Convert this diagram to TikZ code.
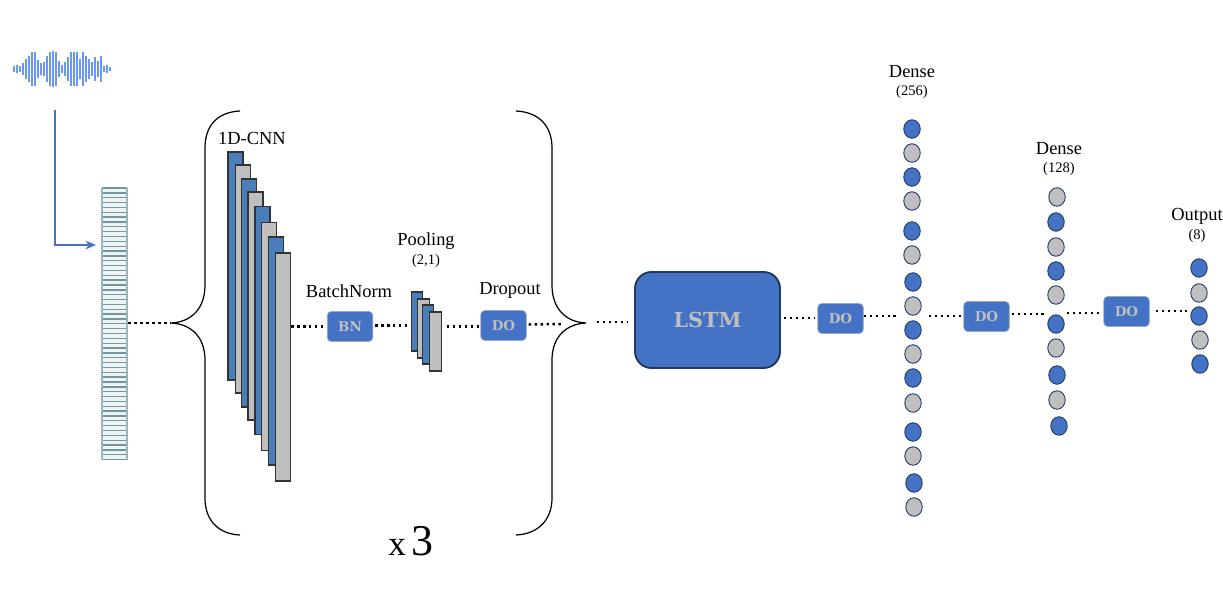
\documentclass[tikz,border=0pt]{standalone}
\usepackage{fontspec}
\setmainfont{Liberation Serif}
\newfontfamily\slabfont{DejaVu Serif}
\usetikzlibrary{arrows.meta,positioning,calc}
\definecolor{boxblue}{HTML}{4472C4}
\definecolor{layerblue}{HTML}{4A7EBB}
\definecolor{unitgray}{HTML}{BFBFBF}
\definecolor{darkline}{HTML}{1F3864}
\definecolor{waveblue}{HTML}{6A96F5}
\definecolor{stripe}{HTML}{6F979C}
\tikzstyle{unitb}=[draw=darkline,fill=boxblue,ellipse,minimum width=.33cm,minimum height=.37cm,inner sep=0pt,line width=.5pt]
\tikzstyle{unitg}=[unitb,fill=unitgray]
\tikzstyle{layerb}=[draw=black!80,fill=layerblue,minimum width=.3cm,minimum height=4.56cm,inner sep=0pt,line width=.7pt]
\tikzstyle{layerg}=[layerb,fill=unitgray]
\tikzstyle{poolb}=[layerb,minimum width=.23cm,minimum height=1.18cm]
\tikzstyle{poolg}=[poolb,fill=unitgray]
\tikzstyle{smallbox}=[draw=unitgray!70!boxblue,fill=boxblue,rounded corners=.08cm,minimum width=.91cm,minimum height=.6cm,inner sep=0pt,text=unitgray,font=\slabfont\fontsize{7.7}{8}\bfseries\selectfont]
\tikzstyle{dots}=[line width=1.4pt,dash pattern=on 1.4pt off 2pt]
\tikzstyle{brace}=[line width=.7pt,black]
\tikzstyle{lab}=[inner sep=0pt,font=\fontsize{10.5}{12}\selectfont]
\tikzstyle{sublab}=[inner sep=0pt,font=\fontsize{8.3}{10}\selectfont]
\usetikzlibrary{shapes.geometric}

\begin{document}
\begin{tikzpicture}[x=.02cm,y=-.02cm]
\useasboundingbox (0,0) rectangle (1223,595);

% waveform
\foreach \px/\h in {14/2.7,17.3/4,20.3/2.7,23.3/6,26.3/10,29.3/13.3,32.3/16.7,35.3/17.3,38.3/9.3,41.3/6,44.3/7.3,47.3/13.3,50.3/16.7,53.3/18.3,56.3/16.7,59.3/8.3,62.3/4,65.3/6.7,68.3/11.7,71.3/16.7,74.3/17.3,77.3/17.3,80.3/10,83.3/16.7,86.3/13.3,89.3/10,92.3/7.3,95.3/11.7,98.3/8.3,101.3/12.7,104.3/3.3,107.3/4,110.3/2}
  \draw[waveblue,line width=.95pt] (\px,69-\h) -- (\px,69+\h);

% input strip
\node[draw=none,minimum width=.5cm,minimum height=5.44cm,fill=stripe!12,inner sep=0pt] (strip) at (114.5,324) {};
\foreach \n in {0,...,56}
  \draw[stripe,line width=.75pt] (102,188+\n*4.85) -- (127,188+\n*4.85);
\draw[stripe!70,line width=.6pt] (102,188) -- (102,460) (127,188) -- (127,460);

\coordinate (start) at (55,110);
\coordinate (stripin) at (96,245);
\draw[boxblue,line width=.85pt,-{Stealth[length=6pt,width=5pt]}] (start) |- (stripin);

% 1D-CNN
\node[layerb] (c1) at (235.5,266) {};
\node[layerg] (c2) at (243,279) {};
\node[layerb] (c3) at (249,293) {};
\node[layerg] (c4) at (255.5,306) {};
\node[layerb] (c5) at (262.5,320.5) {};
\node[layerg] (c6) at (269,336.5) {};
\node[layerb] (c7) at (276,351) {};
\node[layerg] (c8) at (283,367) {};
\node[lab] (cnnlab) at (252,138) {1D-CNN};

\node[smallbox] (bn) at (350,326.5) {BN};
\node[lab] (bnlab) at (349,291) {BatchNorm};

% pooling
\node[poolb] (p1) at (417,321.5) {};
\node[poolg] (p2) at (423.5,328.5) {};
\node[poolb] (p3) at (428,334.5) {};
\node[poolg] (p4) at (435.5,341.5) {};
\node[lab] (poollab) at (426,241) {Pooling};
\node[sublab] (poolsub) at (426,261) {(2,1)};

\node[smallbox] (do1) at (503.5,325.5) {DO};
\node[lab] (dolab) at (510,290) {Dropout};

% braces
\coordinate (tipl) at (171,323);
\coordinate (tipr) at (586,323);
\draw[brace] (240,111) .. controls (218,112) and (205,125) .. (205,148) -- (205,285) .. controls (205,308) and (192,322) .. (tipl) .. controls (192,324) and (205,338) .. (205,360) -- (205,498) .. controls (205,520) and (218,534) .. (240,535);
\draw[brace] (516,111) .. controls (538,112) and (552,125) .. (552,148) -- (552,285) .. controls (552,308) and (565,322) .. (tipr) .. controls (565,324) and (552,338) .. (552,360) -- (552,498) .. controls (552,520) and (538,534) .. (516,535);
\node[inner sep=0pt,anchor=base,font=\fontsize{20}{24}\selectfont] (times) at (411,555) {x\,{\fontsize{25}{24}\selectfont 3}};

% lstm and dropouts
\node[draw=darkline,fill=boxblue,line width=1.1pt,rounded corners=.33cm,minimum width=2.9cm,minimum height=1.92cm,inner sep=0pt,text=unitgray,font=\slabfont\fontsize{11.8}{12}\bfseries\selectfont] (lstm) at (707.5,320) {LSTM};
\node[smallbox] (do2) at (840.5,318.5) {DO};
\node[smallbox] (do3) at (986.5,316.5) {DO};
\node[smallbox] (do4) at (1126.5,311.5) {DO};

% dense 256
\node[lab] (d1lab) at (912,72) {Dense};
\node[sublab] (d1sub) at (912,92) {(256)};
\node[unitb] (a1) at (912,129) {};
\node[unitg] (a2) at (912,153) {};
\node[unitb] (a3) at (912,177) {};
\node[unitg] (a4) at (912,201) {};
\node[unitb] (a5) at (912,231) {};
\node[unitg] (a6) at (912,255) {};
\node[unitb] (a7) at (913,282) {};
\node[unitg] (a8) at (913,306) {};
\node[unitb] (a9) at (913,330) {};
\node[unitg] (a10) at (913,354) {};
\node[unitb] (a11) at (913,378) {};
\node[unitg] (a12) at (913,403) {};
\node[unitb] (a13) at (913,432) {};
\node[unitg] (a14) at (913,456) {};
\node[unitb] (a15) at (914,483) {};
\node[unitg] (a16) at (914,507) {};

% dense 128
\node[lab] (d2lab) at (1059,149) {Dense};
\node[sublab] (d2sub) at (1059,169) {(128)};
\node[unitg] (b1) at (1057,197) {};
\node[unitb] (b2) at (1056,222) {};
\node[unitg] (b3) at (1056,247) {};
\node[unitb] (b4) at (1056,271) {};
\node[unitg] (b5) at (1056,295) {};
\node[unitb] (b6) at (1056,324) {};
\node[unitg] (b7) at (1056,348) {};
\node[unitb] (b8) at (1057,375) {};
\node[unitg] (b9) at (1057,400) {};
\node[unitb] (b10) at (1059,426) {};

% output
\node[lab] (outlab) at (1197,216) {Output};
\node[sublab] (outsub) at (1197,236) {(8)};
\node[unitb] (o1) at (1199,268) {};
\node[unitg] (o2) at (1199,293) {};
\node[unitb] (o3) at (1199,316) {};
\node[unitg] (o4) at (1200,340) {};
\node[unitb] (o5) at (1200,364) {};

% dotted links
\coordinate (e1) at (562,324);
\coordinate (e2) at (597,322);
\coordinate (e3) at (896,316);
\coordinate (e4) at (929,316);
\coordinate (e5) at (1044,314);
\coordinate (e6) at (1067,313);
\coordinate (e7) at (1187,311);
\draw[dots] ($(strip.east |- tipl)+(1,0)$) -- (tipl);
\draw[dots] (c8.east |- bn) -- (bn.west);
\draw[dots] ($(bn.east)+(2,-1)$) -- ($(p1.west |- bn)+(-1,-1)$);
\draw[dots] ($(p4.east |- do1)+(5,1)$) -- ($(do1.west)+(0,1)$);
\draw[dots] ($(do1.east)+(2,-1)$) -- (e1);
\draw[dots] (e2) -- ($(lstm.west |- e2)+(-6,0)$);
\draw[dots] ($(lstm.east)+(3,-2)$) -- ($(do2.west)+(-3,-.5)$);
\draw[dots] (do2.east |- e3) -- (e3);
\draw[dots] (e4) -- (do3.west |- e4);
\draw[dots] ($(do3.east |- e5)+(2,0)$) -- (e5);
\draw[dots] (e6) -- ($(do4.west |- e6)+(-4,0)$);
\draw[dots] ($(do4.east |- e7)+(6,0)$) -- (e7);
\end{tikzpicture}
\end{document}
